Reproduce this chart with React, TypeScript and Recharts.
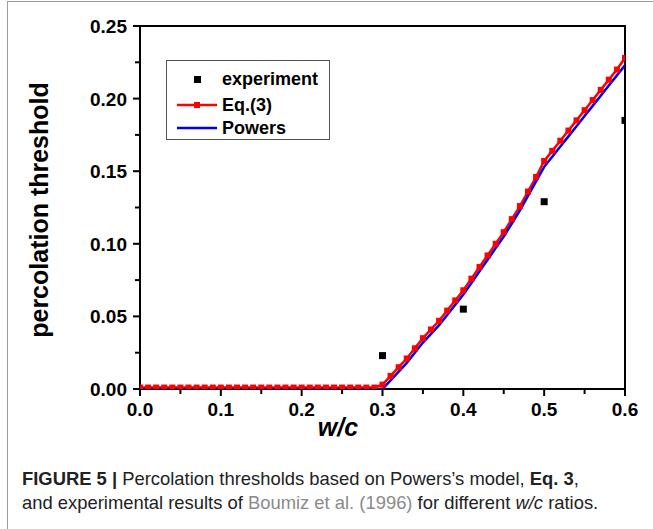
import React from 'react'
import {
  ComposedChart,
  Line,
  Scatter,
  XAxis,
  YAxis,
  ReferenceArea,
} from 'recharts'

// w/c ratio grid used by both model curves
const wcValues = [
  0.0, 0.01, 0.02, 0.03, 0.04, 0.05, 0.06, 0.07, 0.08, 0.09,
  0.1, 0.11, 0.12, 0.13, 0.14, 0.15, 0.16, 0.17, 0.18, 0.19,
  0.2, 0.21, 0.22, 0.23, 0.24, 0.25, 0.26, 0.27, 0.28, 0.29,
  0.3, 0.31, 0.32, 0.33, 0.34, 0.35, 0.36, 0.37, 0.38, 0.39,
  0.4, 0.41, 0.42, 0.43, 0.44, 0.45, 0.46, 0.47, 0.48, 0.49,
  0.5, 0.51, 0.52, 0.53, 0.54, 0.55, 0.56, 0.57, 0.58, 0.59,
  0.6,
]

const eq3Values = [
  0.001, 0.001, 0.001, 0.001, 0.001, 0.001, 0.001, 0.001, 0.001, 0.001,
  0.001, 0.001, 0.001, 0.001, 0.001, 0.001, 0.001, 0.001, 0.001, 0.001,
  0.001, 0.001, 0.001, 0.001, 0.001, 0.001, 0.001, 0.001, 0.001, 0.001,
  0.003, 0.009, 0.015, 0.021, 0.028, 0.035, 0.041, 0.047, 0.054, 0.061,
  0.068, 0.076, 0.084, 0.092, 0.1, 0.108, 0.117, 0.126, 0.136, 0.146,
  0.157, 0.164, 0.171, 0.178, 0.185, 0.192, 0.199, 0.206, 0.213, 0.22,
  0.228,
]

const powersValues = [
  0, 0, 0, 0, 0, 0, 0, 0, 0, 0,
  0, 0, 0, 0, 0, 0, 0, 0, 0, 0,
  0, 0, 0, 0, 0, 0, 0, 0, 0, 0,
  0.0, 0.006, 0.012, 0.018, 0.025, 0.032, 0.038, 0.044, 0.051, 0.058,
  0.065, 0.073, 0.081, 0.089, 0.097, 0.105, 0.114, 0.123, 0.133, 0.143,
  0.153, 0.16, 0.167, 0.174, 0.181, 0.188, 0.195, 0.202, 0.209, 0.216,
  0.223,
]

const expWc = [0.3, 0.4, 0.5, 0.6]
const expValues = [0.023, 0.055, 0.129, 0.185]

const xTicks = [0, 0.05, 0.1, 0.15, 0.2, 0.25, 0.3, 0.35, 0.4, 0.45, 0.5, 0.55, 0.6]
const yTicks = [0, 0.025, 0.05, 0.075, 0.1, 0.125, 0.15, 0.175, 0.2, 0.225, 0.25]

const curveData = wcValues.map((wc, i) => ({
  wc,
  eq3: eq3Values[i],
  powers: powersValues[i],
}))
const expData = expWc.map((wc, i) => ({ wc, exp: expValues[i] }))

const FONT = '"Liberation Sans", Arial, Helvetica, sans-serif'

function XTick(props: any) {
  const { x, y, payload } = props
  const v = payload.value
  const major = Math.round(v * 100) % 10 === 0
  return (
    <g>
      <line x1={x} y1={y} x2={x} y2={y + (major ? 7 : 5)} stroke="#000" strokeWidth={2} />
      {major && (
        <text
          x={x}
          y={y + 27}
          textAnchor="middle"
          fontFamily={FONT}
          fontWeight="bold"
          fontSize={19}
          fill="#000"
        >
          {v.toFixed(1)}
        </text>
      )}
    </g>
  )
}

function YTick(props: any) {
  const { x, y, payload } = props
  const v = payload.value
  const major = Math.round(v * 1000) % 50 === 0
  return (
    <g>
      <line x1={x} y1={y} x2={x - (major ? 7 : 5)} y2={y} stroke="#000" strokeWidth={2} />
      {major && (
        <text
          x={x - 13}
          y={y + 7}
          textAnchor="end"
          fontFamily={FONT}
          fontWeight="bold"
          fontSize={19}
          fill="#000"
        >
          {v.toFixed(2)}
        </text>
      )}
    </g>
  )
}

function RedSquare(props: any) {
  const { cx, cy, index } = props
  if (cx == null || cy == null) return <g key={index} />
  return <rect key={index} x={cx - 3} y={cy - 3} width={6} height={6} fill="#ff0000" />
}

function BlackSquare(props: any) {
  const { cx, cy } = props
  return <rect x={cx - 3.5} y={cy - 3.5} width={7} height={7} fill="#000" />
}

export default function App() {
  return (
    <div
      style={{
        position: 'fixed',
        left: 0,
        top: 0,
        width: 653,
        height: 529,
        background: '#fff',
        overflow: 'hidden',
        fontFamily: FONT,
      }}
    >
      {/* page frame */}
      <div
        style={{
          position: 'absolute',
          left: 7,
          top: 1,
          right: 0,
          bottom: 0,
          borderLeft: '1.5px solid #9a9a9a',
          borderTop: '1.5px solid #9a9a9a',
        }}
      />

      <div style={{ position: 'absolute', left: 0, top: 0 }}>
        <ComposedChart
          width={653}
          height={440}
          data={curveData}
          margin={{ top: 26, right: 28, left: 0, bottom: 0 }}
        >
          <XAxis
            dataKey="wc"
            type="number"
            domain={[0, 0.6]}
            ticks={xTicks}
            interval={0}
            height={51}
            tickSize={0}
            tickMargin={0}
            axisLine={false}
            tickLine={false}
            tick={<XTick />}
            allowDataOverflow
          />
          <YAxis
            type="number"
            domain={[0, 0.25]}
            ticks={yTicks}
            interval={0}
            width={140}
            tickSize={0}
            tickMargin={0}
            axisLine={false}
            tickLine={false}
            tick={<YTick />}
            allowDataOverflow
          />
          <ReferenceArea
            x1={0}
            x2={0.6}
            y1={0}
            y2={0.25}
            fill="none"
            fillOpacity={0}
            stroke="#000"
            strokeWidth={2}
          />
          <Line
            type="linear"
            dataKey="eq3"
            stroke="#ff0000"
            strokeWidth={2.5}
            dot={RedSquare}
            activeDot={false}
            isAnimationActive={false}
          />
          <Line
            type="linear"
            dataKey="powers"
            stroke="#0000ee"
            strokeWidth={2.5}
            dot={false}
            activeDot={false}
            isAnimationActive={false}
          />
          <Scatter
            data={expData}
            dataKey="exp"
            shape={<BlackSquare />}
            isAnimationActive={false}
          />
        </ComposedChart>
      </div>

      {/* axis titles */}
      <div
        style={{
          position: 'absolute',
          left: 39,
          top: 210,
          transform: 'translate(-50%, -50%) rotate(-90deg)',
          whiteSpace: 'nowrap',
          fontWeight: 'bold',
          fontSize: 25,
          color: '#000',
        }}
      >
        percolation threshold
      </div>
      <div
        style={{
          position: 'absolute',
          left: 338,
          top: 427,
          transform: 'translate(-50%, -50%)',
          fontWeight: 'bold',
          fontStyle: 'italic',
          fontSize: 25,
          color: '#000',
        }}
      >
        w/c
      </div>

      {/* legend */}
      <div
        style={{
          position: 'absolute',
          left: 166,
          top: 60,
          width: 164,
          height: 80,
          border: '1px solid #555',
          boxSizing: 'border-box',
          fontWeight: 'bold',
          fontSize: 18,
        }}
      >
        <svg width={50} height={79} style={{ position: 'absolute', left: 0, top: 0 }}>
          <rect x={27} y={15} width={7} height={7} fill="#000" />
          <line x1={10} y1={44} x2={50} y2={44} stroke="#ff0000" strokeWidth={2.5} />
          <rect x={27} y={41} width={6} height={6} fill="#ff0000" />
          <line x1={10} y1={67} x2={50} y2={67} stroke="#0000ee" strokeWidth={2.5} />
        </svg>
        <div style={{ position: 'absolute', left: 55, top: 7, lineHeight: '22px' }}>experiment</div>
        <div style={{ position: 'absolute', left: 55, top: 33, lineHeight: '22px' }}>Eq.(3)</div>
        <div style={{ position: 'absolute', left: 55, top: 56, lineHeight: '22px' }}>Powers</div>
      </div>

      {/* caption */}
      <div
        style={{
          position: 'absolute',
          left: 22,
          top: 467,
          fontSize: 18.4,
          lineHeight: '24px',
          color: '#222',
          whiteSpace: 'nowrap',
        }}
      >
        <b>FIGURE 5 |</b> Percolation thresholds based on Powers’s model, <b>Eq. 3</b>,
        <br />
        and experimental results of <span style={{ color: '#8a8a8a' }}>Boumiz et al. (1996)</span> for
        different <i>w/c</i> ratios.
      </div>
    </div>
  )
}
